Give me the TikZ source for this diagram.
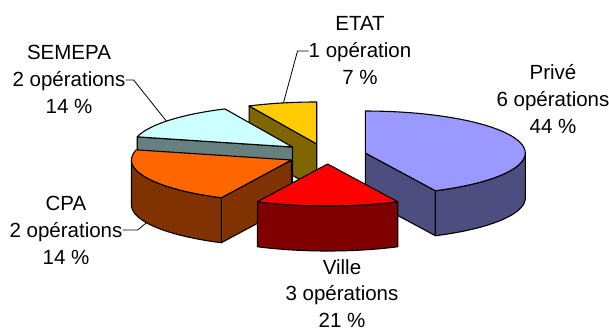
\documentclass[tikz,border=0pt]{standalone}
\usepackage{fontspec}
\setmainfont{Liberation Sans}
\definecolor{priveTop}{HTML}{9999FF}
\definecolor{priveSide}{HTML}{4D4D80}
\definecolor{villeTop}{HTML}{FF0000}
\definecolor{villeSide}{HTML}{800000}
\definecolor{cpaTop}{HTML}{FF6600}
\definecolor{cpaSide}{HTML}{803300}
\definecolor{semTop}{HTML}{CCFFFF}
\definecolor{semSide}{HTML}{668080}
\definecolor{etatTop}{HTML}{FFCC00}
\definecolor{etatSide}{HTML}{806600}
\tikzset{
  edge/.style={draw=black, line width=1.1pt, line join=round},
  lbl/.style={inner sep=0pt, anchor=base, font=\fontsize{20.5}{27}\selectfont},
  leader/.style={draw=black, line width=0.8pt},
}
\newcommand{\radialface}[4]{%
  \path[edge, fill=#4] ({#1+160*sin(#3)},{#2-42*cos(#3)}) -- (#1,#2) -- (#1,#2+45) -- ({#1+160*sin(#3)},{#2+45-42*cos(#3)}) -- cycle;}
\newcommand{\curvedside}[5]{%
  \path[edge, fill=#5] plot[domain=#3:#4, samples=40] ({#1+160*sin(\x)},{#2-42*cos(\x)}) -- plot[domain=#4:#3, samples=40] ({#1+160*sin(\x)},{#2+45-42*cos(\x)}) -- cycle;}
\newcommand{\topface}[5]{%
  \path[edge, fill=#5] (#1,#2) -- plot[domain=#3:#4, samples=40] ({#1+160*sin(\x)},{#2-42*cos(\x)}) -- cycle;}
\begin{document}
\begin{tikzpicture}[x=1pt, y=-1pt]
\useasboundingbox (0,0) rectangle (609,331);
% ETAT
\radialface{316.7}{144}{335}{etatSide}
\topface{316.7}{144}{335}{360}{etatTop}
% SEMEPA
\radialface{292.5}{147}{284}{semSide}
\topface{292.5}{147}{284}{335}{semTop}
% CPA
\radialface{291.5}{160}{206}{cpaSide}
\curvedside{291.5}{160}{206}{270}{cpaSide}
\topface{291.5}{160}{206}{284}{cpaTop}
% Prive
\radialface{365.3}{153}{154}{priveSide}
\curvedside{365.3}{153}{90}{154}{priveSide}
\topface{365.3}{153}{0}{154}{priveTop}
% Ville
\curvedside{327.6}{164}{154}{206}{villeSide}
\topface{327.6}{164}{154}{206}{villeTop}
% leader ends
\coordinate (semEnd) at ({292.5+160*sin(308)},{147-42*cos(308)});
\coordinate (etatEnd) at ({316.7+160*sin(348)},{144-42*cos(348)});
\coordinate (cpaEnd) at ({291.5+160*sin(245)},{160+45-42*cos(245)});
% labels
\node[lbl] (etA) at (360,31) {ETAT};
\node[lbl] (etB) at (360,58) {1 opération};
\node[lbl] (etC) at (360,85) {7 \%};
\node[lbl] (semA) at (69,59.5) {SEMEPA};
\node[lbl] (semB) at (69,86.5) {2 opérations};
\node[lbl] (semC) at (69,113.5) {14 \%};
\node[lbl] (prA) at (553,80) {Privé};
\node[lbl] (prB) at (553,107) {6 opérations};
\node[lbl] (prC) at (553,134) {44 \%};
\node[lbl] (cpaA) at (66,210) {CPA};
\node[lbl] (cpaB) at (66,237) {2 opérations};
\node[lbl] (cpaC) at (66,264) {14 \%};
\node[lbl] (viA) at (342,274) {Ville};
\node[lbl] (viB) at (342,300.5) {3 opérations};
\node[lbl] (viC) at (342,327) {21 \%};
% leaders
\draw[leader] ([yshift=6.5pt]semB.base east) -- ++(8,0) -- (semEnd);
\draw[leader] ([yshift=7pt]etB.base west) -- ++(-11,0) -- (etatEnd);
\draw[leader] ([yshift=7pt]cpaB.base east) -- ++(15,0) -- (cpaEnd);
\end{tikzpicture}
\end{document}
